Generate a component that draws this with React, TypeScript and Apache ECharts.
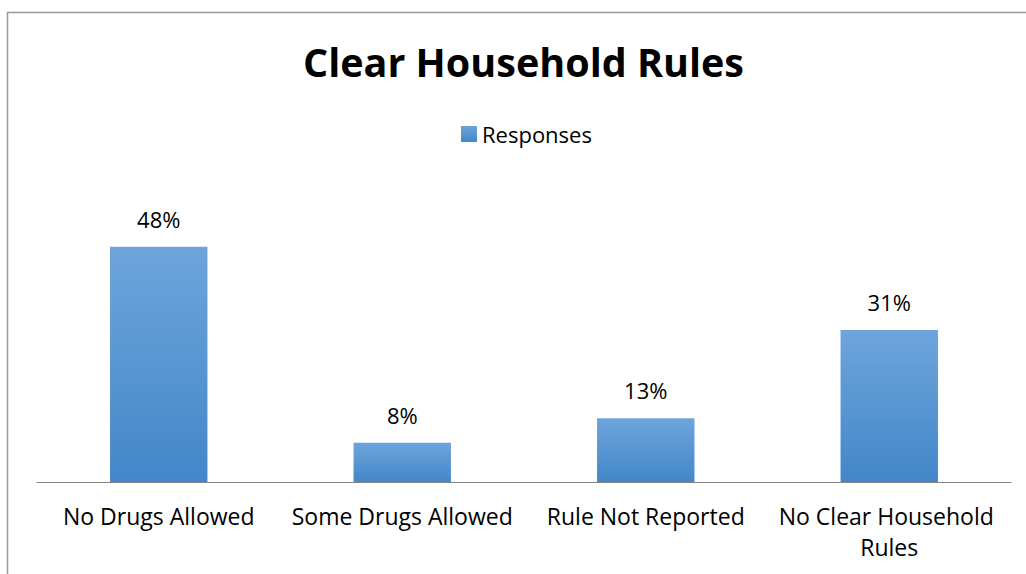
import React, { useEffect, useRef } from "react";
import * as echarts from "echarts";

const categories = ["No Drugs Allowed", "Some Drugs Allowed", "Rule Not Reported", "No Clear Household Rules"];
const responses = [48, 8, 13, 31];
const seriesName = "Responses";
const titleText = "Clear Household Rules";

const FONT = "'Open Sans', 'Noto Sans', sans-serif";

export default function App() {
  const ref = useRef<HTMLDivElement>(null);
  useEffect(() => {
    if (!ref.current) return;
    const chart = echarts.init(ref.current, undefined, { renderer: "svg" });
    chart.setOption({
      animation: false,
      backgroundColor: "#ffffff",
      textStyle: { fontFamily: FONT },
      title: {
        text: titleText,
        left: 518.5,
        textAlign: "center",
        top: 37,
        textStyle: { fontSize: 39.5, fontWeight: "bold", color: "#000", fontFamily: FONT },
      },
      legend: {
        data: [seriesName],
        left: 456,
        top: 118,
        itemWidth: 16,
        itemHeight: 16,
        itemGap: 6,
        icon: "rect",
        textStyle: { fontSize: 22, color: "#000", fontFamily: FONT },
      },
      grid: { left: 37, right: 15, top: 188, bottom: 92, containLabel: false },
      xAxis: {
        type: "category",
        data: categories,
        axisLine: { lineStyle: { color: "#868686", width: 1 } },
        axisTick: { show: false },
        axisLabel: {
          fontSize: 23,
          color: "#000",
          fontFamily: FONT,
          margin: 18,
          lineHeight: 31,
          interval: 0,
          width: 238,
          overflow: "break",
        },
      },
      yAxis: {
        type: "value",
        min: 0,
        max: 60,
        show: false,
        splitLine: { show: false },
      },
      series: [
        {
          name: seriesName,
          type: "bar",
          data: responses,
          barWidth: "40%",
          itemStyle: {
            color: new echarts.graphic.LinearGradient(0, 0, 0, 1, [
              { offset: 0, color: "#6ea4dc" },
              { offset: 1, color: "#4287c9" },
            ]),
          },
          label: {
            show: true,
            position: "top",
            distance: 17,
            formatter: (p: any) => `${p.value}%`,
            fontSize: 22,
            color: "#000",
            fontFamily: FONT,
          },
        },
      ],
      graphic: [
        {
          type: "rect",
          shape: { x: 7.5, y: 12.5, width: 1100, height: 700 },
          style: { fill: "none", stroke: "#999999", lineWidth: 1.5 },
          silent: true,
        },
      ],
    });
    return () => chart.dispose();
  }, []);
  return (
    <div
      ref={ref}
      style={{ position: "absolute", left: 0, top: 0, width: 1026, height: 574 }}
    />
  );
}
